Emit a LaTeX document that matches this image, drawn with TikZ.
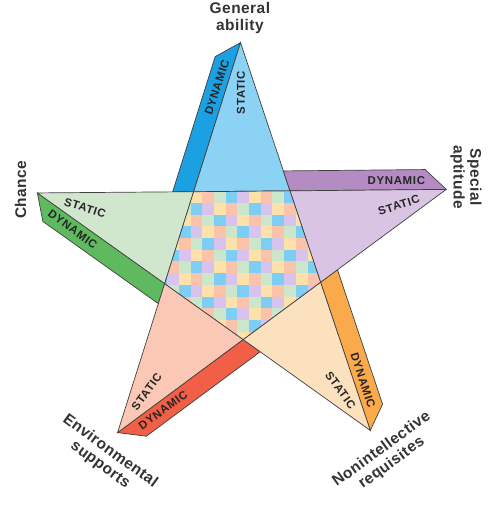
\documentclass[tikz,border=0pt]{standalone}
\usepackage{fontspec}
\setmainfont{Liberation Sans}

\definecolor{gadyn}{RGB}{27,161,226}
\definecolor{gastat}{RGB}{140,210,245}
\definecolor{sadyn}{RGB}{180,140,195}
\definecolor{sastat}{RGB}{218,196,228}
\definecolor{chdyn}{RGB}{95,185,95}
\definecolor{chstat}{RGB}{208,230,205}
\definecolor{esdyn}{RGB}{240,95,70}
\definecolor{esstat}{RGB}{250,200,180}
\definecolor{nrdyn}{RGB}{250,170,75}
\definecolor{nrstat}{RGB}{252,225,190}
\definecolor{cb0}{RGB}{204,230,204}
\definecolor{cb1}{RGB}{125,205,245}
\definecolor{cb2}{RGB}{215,195,235}
\definecolor{cb3}{RGB}{253,225,170}
\definecolor{cb4}{RGB}{250,195,170}

\tikzset{
  edge/.style={draw=black!75, line width=0.4pt},
  lbl/.style={font=\fontsize{6.5}{7}\selectfont\bfseries\addfontfeature{LetterSpace=6},
    text=black!85, inner sep=0pt},
  armname/.style={font=\fontsize{8.8}{9.6}\selectfont\bfseries\addfontfeature{LetterSpace=3},
    text=black!80, align=center, inner sep=0pt},
}

\begin{document}
\begin{tikzpicture}[x=0.02cm, y=0.02cm]
    \useasboundingbox (0,0) rectangle (500,519) ;

    \begin{scope}[shift={(242.4,261.4)}]
      \foreach \k/\dk/\lt/\sa/\da in {0/gadyn/gastat/90/72, 1/chdyn/chstat/-18/-36,
        2/esdyn/esstat/54/36, 3/nrdyn/nrstat/-54/-72, 4/sadyn/sastat/18/0} {
        \begin{scope}[rotate=72*\k+0.5]
          \coordinate (tip\k) at (0,215) ;
          \coordinate (in\k) at (-48.2,66.3) ;
          \coordinate (out\k) at (-69.2,66.3) ;
          \filldraw[edge, fill=\dk] (tip\k) -- (-25.5,201.2) -- (out\k) -- (in\k) -- cycle ;
          \filldraw[edge, fill=\lt] (tip\k) -- (in\k) -- (48.2,66.3) -- cycle ;
          \node[lbl, rotate=\sa] (static\k) at (90:165) {STATIC} ;
          \node[lbl, rotate=\da] (dynamic\k) at (98:172) {DYNAMIC} ;
        \end{scope}
      } ;

      \begin{scope}
        \clip (in0) -- (in1) -- (in2) -- (in3) -- (in4) -- cycle ;
        \foreach \i in {0, ..., 15} {
          \foreach \j in {0, ..., 14} {
            \pgfmathtruncatemacro{\c}{mod(\i+3*\j,5)}
            \fill[cb\c] (-87+11.7*\i, 66.3-11.7*\j) rectangle ++(11.7,-11.7) ;
          } ;
        } ;
      \end{scope}
      \draw[edge] (in0) -- (in1) -- (in2) -- (in3) -- (in4) -- cycle ;

      \node[armname] (general) at (90.6:240) {General\\ability} ;
      \node[armname, rotate=90] (chance) at (163:232) {Chance} ;
      \node[armname, rotate=-36] (environ) at (235.6:243) {Environmental\\supports} ;
      \node[armname, rotate=36] (nonint) at (-54:245.5) {Nonintellective\\requisites} ;
      \node[armname, rotate=-90] (special) at (19.8:237.7) {Special\\aptitude} ;
    \end{scope}
  \end{tikzpicture}
\end{document}
